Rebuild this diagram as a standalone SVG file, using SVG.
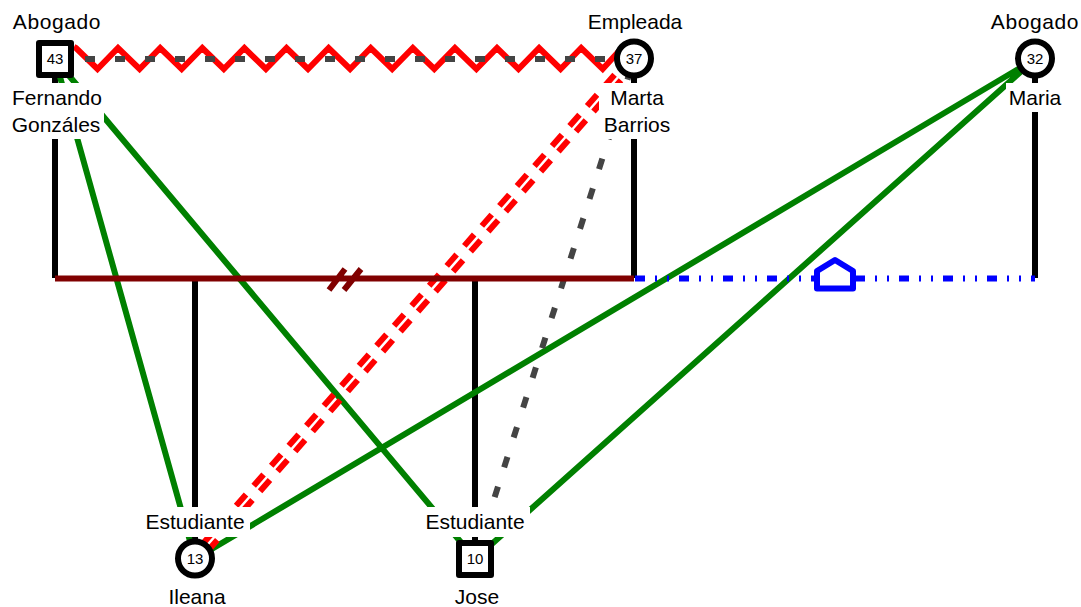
<svg xmlns="http://www.w3.org/2000/svg" width="1081" height="607" viewBox="0 0 1081 607">
<style>
text{font-family:"Liberation Sans",Arial,sans-serif;fill:#000}
.l{font-size:21px;text-anchor:middle}
.a{letter-spacing:.6px}
.n{font-size:15px;text-anchor:middle}
.s{fill:#fff;stroke:#000;stroke-width:6;stroke-linejoin:round}
.b{stroke:#000;stroke-width:6;fill:none}
.g{stroke:#008000;stroke-width:6;fill:none}
.r{stroke:#f00;stroke-width:6;fill:none;stroke-dasharray:15 11.600;stroke-dashoffset:2}
.d{stroke:#444;stroke-width:6;fill:none}
.w{fill:#fff}
</style>
<rect width="1081" height="607" fill="#fff"/>
<g id="connectors">
<path class="b" d="M55 59V278M634 59V278M1035 59V278M195 278V559M475 278V559"/>
<path class="g" d="M55 59L195 559M55 59L475 559M1035 59L195 559M1035 59L475 559"/>
<path class="r" d="M630.800 56.200L191.800 556.200M637.200 61.800L198.200 561.800"/>
<path class="d" stroke-dasharray="11 20.300" stroke-dashoffset="20.700" d="M634 59L475 559"/>
<path fill="none" stroke="#f00" stroke-width="6" stroke-linejoin="miter" d="M74 47L76 48L97.500 69L118 48L139.600 69L160.200 48L181.700 69L202.300 48L223.800 69L244.400 48L265.900 69L286.500 48L308 69L328.600 48L350.100 69L370.700 48L392.200 69L412.800 48L434.300 69L454.900 48L476.400 69L497 48L518.500 69L539.100 48L560.600 69L581.200 48L602.700 69L620 50"/>
<path class="d" stroke-dasharray="10 20" d="M55 59H634"/>
<path stroke="#800000" stroke-width="6" fill="none" d="M55 278.500H634M329 290L345 269M344 290L361 269"/>
<path stroke="#00f" stroke-width="6" fill="none" stroke-dasharray="10 10 2 10 2 10" d="M635 278.500H1035"/>
<path fill="#fff" stroke="#00f" stroke-width="6" stroke-linejoin="round" d="M817 288.500V271L835 260L853 271V288.500Z"/>
</g>
<g id="labels-bg">
<rect class="w" x="10" y="83" width="94" height="56"/>
<rect class="w" x="599" y="83" width="74" height="56"/>
<rect class="w" x="1006" y="83" width="58" height="29"/>
<rect class="w" x="142" y="507" width="108" height="30"/>
<rect class="w" x="422" y="507" width="108" height="30"/>
</g>
<g id="n43"><rect class="s" x="39" y="43" width="32" height="32"/><text class="n" x="55" y="64">43</text><text class="l a" x="57" y="29">Abogado</text><text class="l" x="57" y="105">Fernando</text><text class="l" x="56" y="132">Gonzáles</text></g>
<g id="n37"><circle class="s" cx="634" cy="58.500" r="17"/><text class="n" x="634" y="64">37</text><text class="l" x="635" y="29">Empleada</text><text class="l" x="637" y="105">Marta</text><text class="l" x="637" y="132">Barrios</text></g>
<g id="n32"><circle class="s" cx="1035" cy="58.500" r="17"/><text class="n" x="1035" y="64">32</text><text class="l a" x="1035" y="29">Abogado</text><text class="l" x="1035" y="105">Maria</text></g>
<g id="n13"><circle class="s" cx="195" cy="558.500" r="17"/><text class="n" x="195" y="564">13</text><text class="l" x="195" y="529">Estudiante</text><text class="l" x="197" y="604">Ileana</text></g>
<g id="n10"><rect class="s" x="459" y="543" width="32" height="32"/><text class="n" x="475" y="564">10</text><text class="l" x="475" y="529">Estudiante</text><text class="l" x="477" y="604">Jose</text></g>
</svg>
